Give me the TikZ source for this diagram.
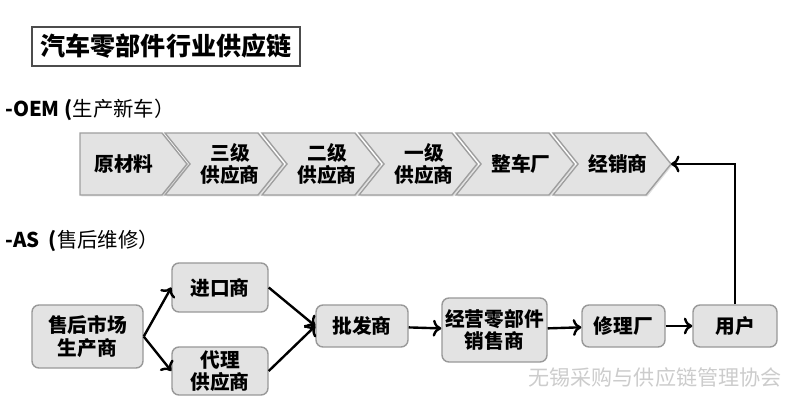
\documentclass[tikz,border=0pt]{standalone}
\usepackage{fontspec}
\setmainfont{Noto Sans CJK SC}
\usetikzlibrary{shadows,positioning,arrows.meta}
\tikzset{
  chev/.style={draw=gray!75, line width=1pt, fill=gray!22,
    drop shadow={opacity=0.25, shadow xshift=1pt, shadow yshift=-1pt}},
  chevtext/.style={font=\bfseries\fontsize{14}{16}\selectfont, align=center},
  box/.style={draw=gray!80, line width=1pt, fill=gray!22, rounded corners=5pt,
    font=\bfseries\fontsize{14}{16}\selectfont, align=center, inner sep=0pt},
  link/.style={line width=1.7pt, ->, >={To[length=6pt, width=12pt]}}
}
\begin{document}
\begin{tikzpicture}[x=0.025cm, y=-0.025cm]
  \useasboundingbox (0,0) rectangle (800,413);
  \node[draw=black!70, line width=1.2pt, minimum width=6.7cm, minimum height=0.975cm,
    font=\bfseries\fontsize{17.8}{20}\selectfont] (title) at (166,46.5) {汽车零部件行业供应链};
  \node[anchor=west, font=\fontsize{14.5}{16}\selectfont, inner sep=0pt] (oem) at (5,110)
    {{\bfseries -OEM (}生产新车）};
  \node[anchor=west, font=\fontsize{14.5}{16}\selectfont, inner sep=0pt] (as) at (5,241)
    {{\bfseries -AS\ \ (}售后维修）};
  % OEM chain
  \draw[chev] (80,133) -- (162,133) -- (187,164) -- (162,195) -- (80,195) -- cycle;
  \node[chevtext] (c0) at (124,164) {原材料};
  \foreach \lbl [count=\i] in {{三级\\供应商},{二级\\供应商},{一级\\供应商},整车厂,经销商} {
    \pgfmathsetmacro\L{165+97*(\i-1)}
    \draw[chev] (\L,133) -- ({\L+93},133) -- ({\L+118},164) -- ({\L+93},195)
      -- (\L,195) -- ({\L+25},164) -- cycle;
    \node[chevtext] (c\i) at ({\L+65},164) {\lbl};
    \coordinate (t\i) at ({\L+118},164);
  }
  % AS chain
  \node[box, minimum width=2.775cm, minimum height=1.575cm] (maker) at (87.5,336.5) {售后市场\\生产商};
  \node[box, minimum width=2.4cm, minimum height=1.225cm] (import) at (220,287.5) {进口商};
  \node[box, minimum width=2.4cm, minimum height=1.2cm] (agent) at (220,371) {代理\\供应商};
  \node[box, minimum width=2.3cm, minimum height=1.05cm] (whole) at (362,326) {批发商};
  \node[box, minimum width=2.625cm, minimum height=1.6cm] (dealer) at (494.5,330) {经营零部件\\销售商};
  \node[box, minimum width=2.075cm, minimum height=1.05cm] (repair) at (623.5,326) {修理厂};
  \node[box, minimum width=2.1cm, minimum height=1.05cm] (user) at (735,326) {用户};
  \draw[link] (maker.east) -- (import.west);
  \draw[link] (maker.east) -- (agent.west);
  \draw[link] (import.east) -- (whole.west);
  \draw[link] (agent.east) -- (whole.west);
  \draw[link] (whole) -- (dealer);
  \draw[link] (dealer) -- (repair);
  \draw[link] (repair) -- (user);
  \draw[link] (user.north) |- (t5);
  \node[text=gray!40, font=\fontsize{15}{17}\selectfont] (mark) at (655,377) {无锡采购与供应链管理协会};
\end{tikzpicture}
\end{document}
